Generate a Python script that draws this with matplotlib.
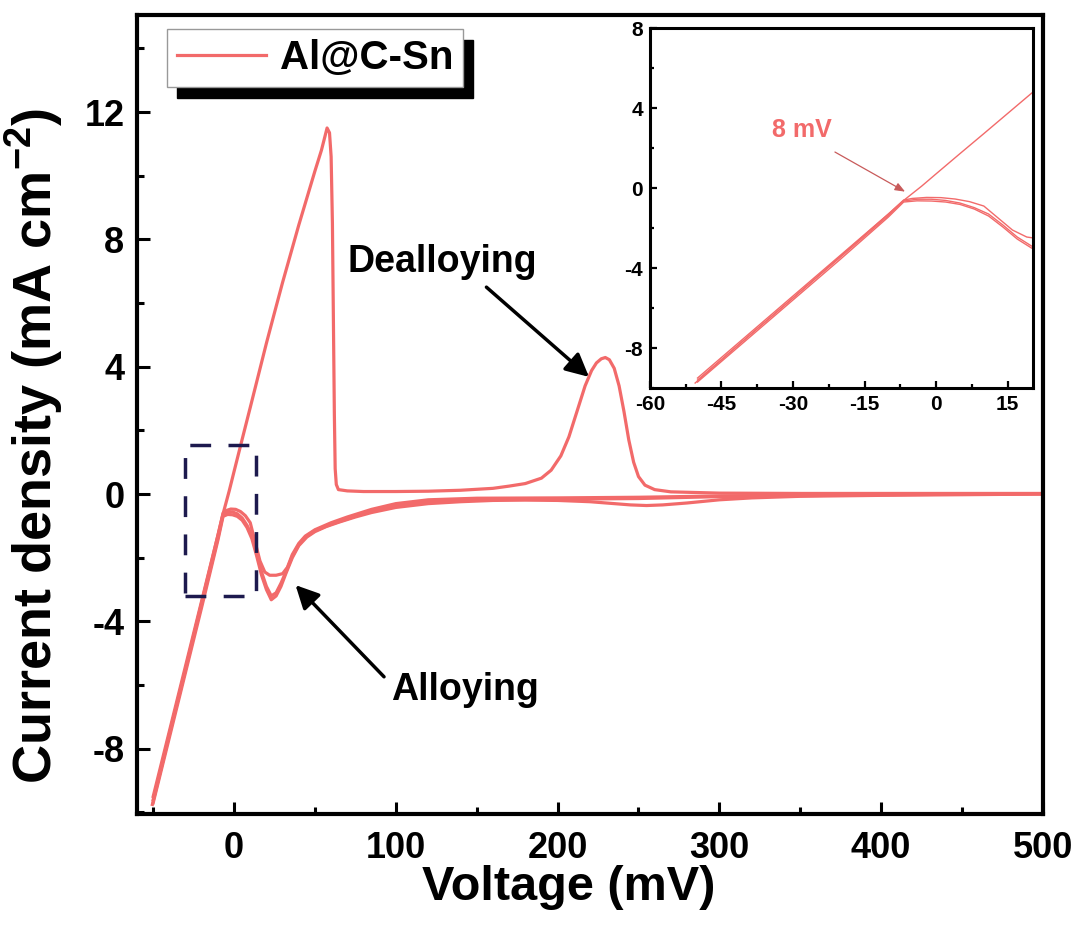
import matplotlib
matplotlib.use("Agg")
import matplotlib.pyplot as plt
from matplotlib.patches import Rectangle
from matplotlib.ticker import MultipleLocator

plt.rcParams['font.family'] = ['Liberation Sans', 'DejaVu Sans']
plt.rcParams['font.weight'] = 'bold'
plt.rcParams['axes.unicode_minus'] = False
plt.rcParams['mathtext.fontset'] = 'custom'
plt.rcParams['mathtext.rm'] = 'Liberation Sans'
plt.rcParams['mathtext.bf'] = 'Liberation Sans:bold'

# anodic sweep (mV, mA cm-2)
fwd_v = [-50.5, -45, -40, -30, -20, -10, -6.8, -3, 0, 5, 10, 15, 20, 25, 30, 35, 40,
         45, 50, 54, 57.5, 59, 60, 60.8, 61.4, 62, 62.5, 63.2, 64.5, 70, 80, 100, 120,
         140, 160, 170, 180, 190, 196, 202, 207, 212, 217, 221, 224, 227, 229.5, 232,
         235, 238, 241, 244, 247, 250, 254, 260, 270, 300, 350, 400, 450, 500]
fwd_i = [-9.75, -8.6, -7.55, -5.5, -3.4, -1.3, -0.62, 0.1, 0.71, 1.72, 2.72, 3.73, 4.74,
         5.7, 6.65, 7.55, 8.45, 9.3, 10.15, 10.8, 11.5, 11.35, 10.6, 8.5, 5.5, 2.5, 0.8,
         0.3, 0.14, 0.1, 0.08, 0.08, 0.09, 0.12, 0.18, 0.25, 0.33, 0.5, 0.75, 1.2, 1.8,
         2.6, 3.4, 3.88, 4.12, 4.25, 4.29, 4.22, 3.95, 3.4, 2.6, 1.7, 1.0, 0.55, 0.28,
         0.14, 0.07, 0.03, 0.02, 0.02, 0.02, 0.02]

# cathodic sweeps, three cycles
rev1_v = [500, 450, 400, 350, 320, 300, 280, 265, 255, 245, 235, 220, 200, 180, 160, 140,
          120, 100, 85, 75, 65, 57, 50, 45, 40, 36, 32, 29, 26, 23, 20, 17, 14, 11, 8, 5,
          2, -1, -4, -6.8, -10, -20, -30, -40, -50]
rev1_i = [0.0, -0.02, -0.04, -0.07, -0.12, -0.18, -0.28, -0.34, -0.36, -0.34, -0.3, -0.24,
          -0.2, -0.19, -0.2, -0.24, -0.3, -0.42, -0.58, -0.72, -0.88, -1.02, -1.18, -1.35,
          -1.62, -2.0, -2.5, -2.9, -3.2, -3.32, -3.0, -2.55, -1.95, -1.4, -1.05, -0.82,
          -0.7, -0.65, -0.64, -0.7, -1.45, -3.55, -5.6, -7.65, -9.7]

rev2_v = [500, 400, 300, 250, 200, 150, 120, 100, 85, 70, 60, 50, 44, 40, 36, 33, 30, 26,
          22, 19, 16, 13, 10, 7, 4, 1, -2, -5, -6.8, -10, -20, -30, -40, -50]
rev2_i = [0.01, -0.01, -0.06, -0.1, -0.12, -0.13, -0.18, -0.3, -0.48, -0.72, -0.9, -1.12,
          -1.32, -1.55, -1.9, -2.3, -2.5, -2.55, -2.55, -2.45, -2.1, -1.5, -0.9, -0.68,
          -0.55, -0.48, -0.47, -0.52, -0.6, -1.3, -3.35, -5.4, -7.45, -9.5]

rev3_v = [500, 400, 300, 250, 200, 150, 120, 100, 85, 70, 60, 50, 44, 40, 36, 32, 29, 26,
          23, 20, 17, 14, 11, 8, 5, 2, -1, -4, -6.8, -10, -20, -30, -40, -50]
rev3_i = [0.01, -0.02, -0.08, -0.14, -0.16, -0.17, -0.24, -0.36, -0.52, -0.78, -0.95,
          -1.15, -1.35, -1.6, -1.95, -2.45, -2.8, -3.1, -3.2, -2.9, -2.45, -1.85, -1.3,
          -0.98, -0.75, -0.62, -0.56, -0.56, -0.65, -1.38, -3.45, -5.5, -7.55, -9.6]

red = '#F26A6A'

fig = plt.figure(figsize=(10.83, 9.25), dpi=100)
ax = fig.add_axes([0.1265, 0.12, 0.8365, 0.8638])

ax.plot(fwd_v, fwd_i, color=red, lw=2.3, label='Al@C-Sn')
for rv, ri in [(rev1_v, rev1_i), (rev2_v, rev2_i), (rev3_v, rev3_i)]:
    ax.plot(rv, ri, color=red, lw=2.3)

ax.set_xlim(-60, 500)
ax.set_ylim(-10.05, 15.05)
ax.xaxis.set_major_locator(MultipleLocator(100))
ax.xaxis.set_minor_locator(MultipleLocator(50))
ax.yaxis.set_major_locator(MultipleLocator(4))
ax.yaxis.set_minor_locator(MultipleLocator(2))
ax.tick_params(which='both', direction='in', width=2.2, labelsize=26, top=False, right=False)
ax.tick_params(which='major', length=9)
ax.tick_params(which='minor', length=5)
ax.tick_params(axis='x', pad=12)
ax.tick_params(axis='y', pad=9)
for s in ax.spines.values():
    s.set_linewidth(3)

ax.set_xlabel('Voltage (mV)', fontsize=35, fontweight='bold')
ax.set_ylabel(r'Current density (mA cm$^{-2}$)', fontsize=39, fontweight='bold')
ax.xaxis.set_label_coords(0.476, -0.064)
ax.yaxis.set_label_coords(-0.08, 0.46)

# dashed box marking the zoomed area
ax.add_patch(Rectangle((-30.5, -3.2), 44.3, 4.75, fill=False, edgecolor='#1d1a4e',
                       lw=2.5, linestyle=(0, (6, 5)), zorder=3))

ax.text(128.6, 7.3, 'Dealloying', fontsize=27, fontweight='bold', ha='center', va='center')
ax.annotate('', xy=(219.4, 3.68), xytext=(156, 6.5),
            arrowprops=dict(arrowstyle='-|>,head_length=0.7,head_width=0.35',
                            color='k', lw=2.5, mutation_scale=20, shrinkA=0, shrinkB=0))
ax.text(143, -6.16, 'Alloying', fontsize=27, fontweight='bold', ha='center', va='center')
ax.annotate('', xy=(38, -2.86), xytext=(92.7, -5.74),
            arrowprops=dict(arrowstyle='-|>,head_length=0.7,head_width=0.35',
                            color='k', lw=2.5, mutation_scale=20, shrinkA=0, shrinkB=0))

leg = ax.legend(loc='upper left', bbox_to_anchor=(0.033, 0.983), borderaxespad=0,
                frameon=True, fancybox=False, framealpha=1,
                edgecolor='#999999', handlelength=2.2, handletextpad=0.35,
                borderpad=0.25, prop={'weight': 'bold', 'size': 29})
leg.get_frame().set_linewidth(1)

# inset
ins = fig.add_axes([0.600, 0.5805, 0.3538, 0.3892])
ins.plot(fwd_v, fwd_i, color=red, lw=1.0)
for rv, ri in [(rev1_v, rev1_i), (rev2_v, rev2_i), (rev3_v, rev3_i)]:
    ins.plot(rv, ri, color=red, lw=1.0)
ins.set_xlim(-60, 20.3)
ins.set_ylim(-10, 8)
ins.xaxis.set_major_locator(MultipleLocator(15))
ins.xaxis.set_minor_locator(MultipleLocator(7.5))
ins.yaxis.set_major_locator(MultipleLocator(4))
ins.yaxis.set_minor_locator(MultipleLocator(2))
ins.tick_params(which='both', direction='in', width=1.6, labelsize=15, pad=5,
                top=False, right=False)
ins.tick_params(which='major', length=5)
ins.tick_params(which='minor', length=3)
for s in ins.spines.values():
    s.set_linewidth(2.2)
ins.text(-28.2, 2.9, '8 mV', color=red, fontsize=18, fontweight='bold', ha='center', va='center')
ins.annotate('', xy=(-6.5, -0.18), xytext=(-21.2, 1.8),
             arrowprops=dict(arrowstyle='-|>,head_length=0.5,head_width=0.2',
                             color='#c85a5a', lw=0.9, mutation_scale=12, shrinkA=0, shrinkB=0))

# black offset shadow behind the legend box
fig.canvas.draw()
bb = leg.get_frame().get_window_extent().transformed(fig.transFigure.inverted())
ax.add_patch(Rectangle((bb.x0 + 10 / 1083, bb.y0 - 11.5 / 925), bb.width, bb.height,
                       transform=fig.transFigure, color='black', zorder=4.9, clip_on=False))

fig.savefig('out.png', dpi=100)
